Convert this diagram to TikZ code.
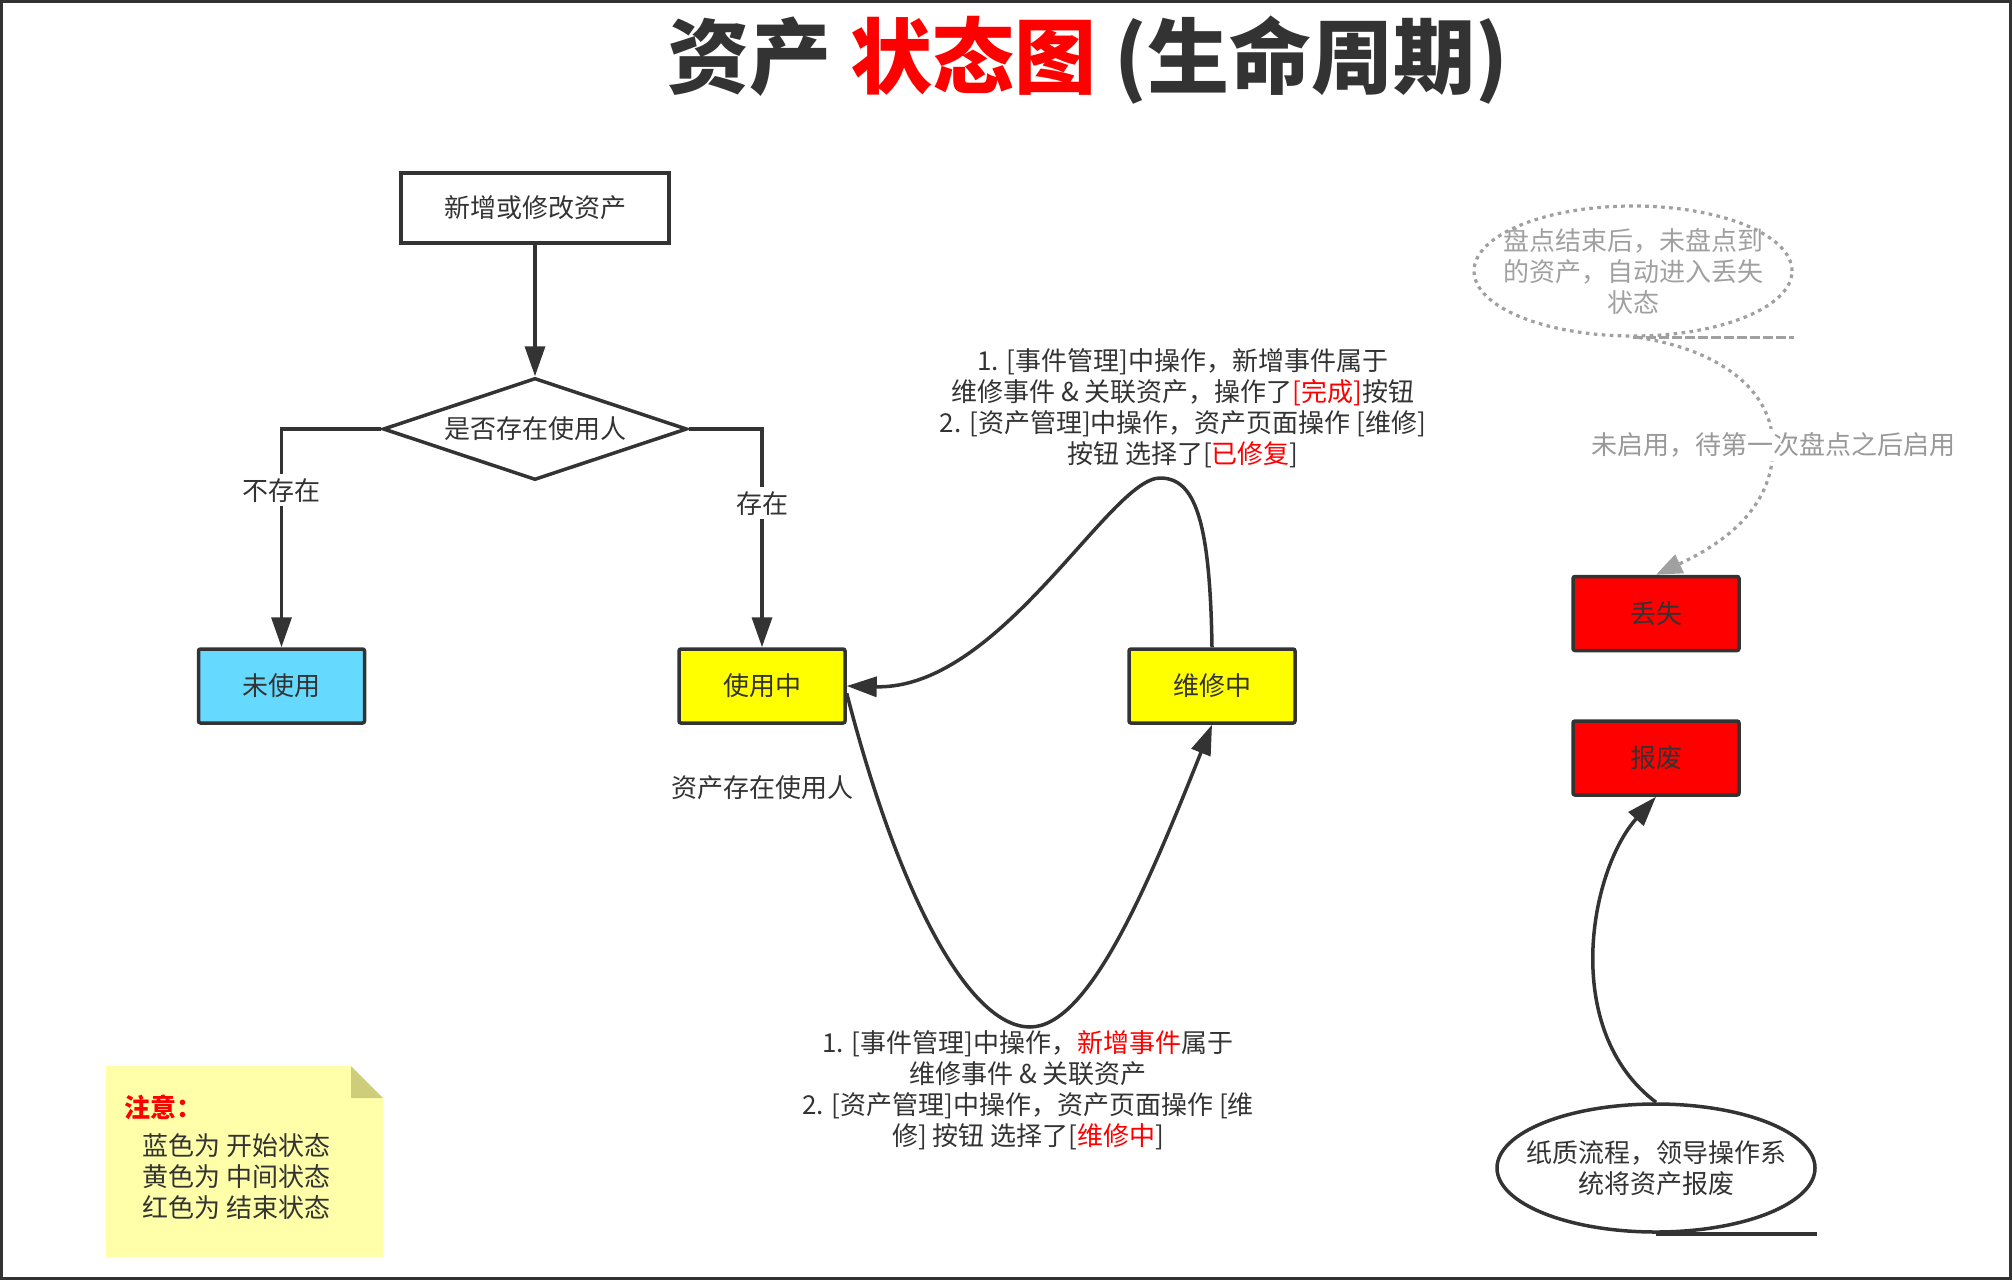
\documentclass[tikz,border=0pt]{standalone}
\usepackage{fontspec}
\usepackage{xcolor}
\usepackage{tikz}
\usetikzlibrary{arrows.meta,shapes.geometric}
\newfontfamily\cjk{Noto Sans CJK SC}
\definecolor{ink}{RGB}{51,51,51}
\definecolor{alert}{RGB}{255,0,0}
\definecolor{startblue}{RGB}{102,217,255}
\definecolor{midyellow}{RGB}{255,255,0}
\definecolor{hint}{RGB}{153,153,153}
\definecolor{hintline}{RGB}{160,160,160}
\definecolor{notefill}{RGB}{255,255,170}
\definecolor{notefold}{RGB}{205,205,122}

\tikzset{
  txt/.style={font=\cjk\fontsize{13}{15.5}\selectfont, text=ink, inner sep=0pt, align=center},
  flowbox/.style={txt, draw=ink, line width=1.75pt, minimum width=134pt, minimum height=35pt},
  statebox/.style={flowbox, minimum width=83pt, minimum height=37pt, rounded corners=1pt},
  callout/.style={txt, ellipse, inner xsep=-9pt, minimum width=159pt},
  link/.style={draw=ink, line width=1.75pt, -{Triangle[length=15pt,width=10pt]}},
  hintdots/.style={hintline, line width=1.6pt, dash pattern=on 1.8pt off 2.2pt},
}

\begin{document}
\begin{tikzpicture}[x=0.5pt, y=-0.5pt]
  \useasboundingbox (0,0) rectangle (2012,1280);
  % Frame
  \draw[ink, line width=1.5pt] (1.5,1.5) rectangle (2010.5,1278.5);

  % Title
  \node[txt, font=\cjk\bfseries\fontsize{41}{48}\selectfont] (title) at (1088,60)
    {资产 {\color{alert}状态图} (生命周期)};

  % Entry and decision
  \node[flowbox] (add) at (535,208) {新增或修改资产};
  \node[flowbox, diamond, shape aspect=2.9, minimum width=152pt, minimum height=51pt] (hasuser) at (535,429) {是否存在使用人};
  \draw[link] (add) -- (hasuser);

  % States
  \node[statebox, fill=startblue] (unused) at (281.5,686) {未使用};
  \node[statebox, fill=midyellow] (inuse) at (762,686) {使用中};
  \node[statebox, fill=midyellow] (repair) at (1212,686) {维修中};
  \node[statebox, fill=alert] (lost) at (1656,613.5) {丢失};
  \node[statebox, fill=alert] (scrap) at (1656,758) {报废};

  \draw[link] (hasuser.west) -| node[txt, fill=white, pos=0.64, inner sep=2pt] (nolabel) {不存在} (unused.north);
  \draw[link] (hasuser.east) -| node[txt, fill=white, pos=0.67, inner sep=2pt] (yeslabel) {存在} (inuse.north);
  \node[txt] (userlabel) at (762,788) {资产存在使用人};

  % Repair loop
  \coordinate (fixpeak) at (1160,478);
  \coordinate (repairlow) at (1030,1027);
  \draw[link] (repair.north) .. controls (1210,520) and (1195,478) .. (fixpeak)
    .. controls (1110,478) and (1000,690) .. (inuse.east);
  \draw[link] (inuse.-5) .. controls (900,900) and (970,1027) .. (repairlow)
    .. controls (1090,1027) and (1150,880) .. (repair.south);
  \node[txt] (fixnote) at (1183,408)
    {1. [事件管理]中操作，新增事件属于\\
     维修事件 \& 关联资产，操作了{\color{alert}[完成]}按钮\\
     2. [资产管理]中操作，资产页面操作 [维修]\\
     按钮 选择了[{\color{alert}已修复}]};
  \node[txt] (repairnote) at (1028,1090)
    {1. [事件管理]中操作，{\color{alert}新增事件}属于\\
     维修事件 \& 关联资产\\
     2. [资产管理]中操作，资产页面操作 [维\\
     修] 按钮 选择了[{\color{alert}维修中}]};

  % Lost
  \node[callout, text=hint, draw, hintdots, minimum height=65pt] (lostnote) at (1633,271)
    {盘点结束后，未盘点到\\的资产，自动进入丢失\\状态};
  \draw[hintline, line width=1.5pt, dash pattern=on 5pt off 1.5pt] (lostnote.south) -- (lostnote.south -| lostnote.east);
  \coordinate (lostbend) at (1773,445);
  \draw[hintdots, -{Triangle[length=13pt,width=10pt]}] (lostnote.-85) .. controls (1720,350) and (1772,390) .. (lostbend)
    .. controls (1774,510) and (1720,545) .. (lost.north);
  \node[txt, text=hint, fill=white, inner sep=2pt] (locklabel) at (lostbend) {未启用，待第一次盘点之后启用};

  % Scrap
  \node[callout, draw=ink, line width=1.75pt, minimum height=64pt] (scrapnote) at (1656,1168)
    {纸质流程，领导操作系\\统将资产报废};
  \draw[ink, line width=1.75pt] (scrapnote.south) -- (scrapnote.south -| scrapnote.east);
  \draw[link] (scrapnote.north) .. controls (1560,1030) and (1590,870) .. (scrap.south);

  % Legend note
  \fill[notefill] (106,1066) -- (351,1066) -- (383,1098) -- (383,1257) -- (106,1257) -- cycle;
  \fill[notefold] (351,1066) -- (383,1098) -- (351,1098) -- cycle;
  \node[txt, anchor=west, text=alert, font=\cjk\bfseries\fontsize{13}{15.5}\selectfont] (notehead) at (124,1107) {注意：};
  \node[txt, anchor=west, align=left] (notebody) at (142,1177)
    {蓝色为 开始状态\\黄色为 中间状态\\红色为 结束状态};
\end{tikzpicture}
\end{document}
